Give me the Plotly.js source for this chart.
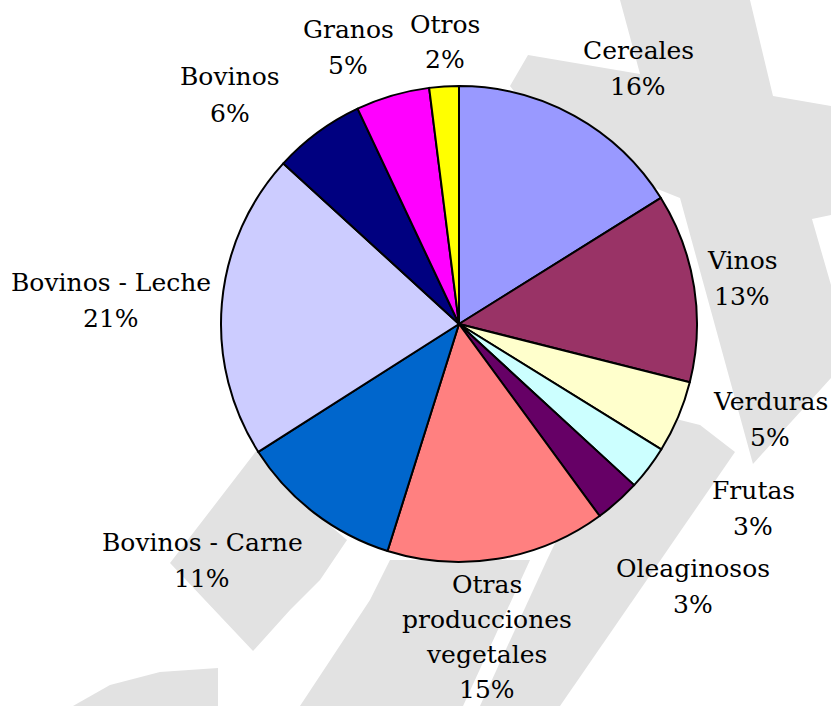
<!DOCTYPE html>
<html>
<head>
<meta charset="utf-8">
<script src="https://cdn.plot.ly/plotly-3.0.1.min.js"></script>
<style>html,body{margin:0;padding:0;background:#fff;}#chart{width:831px;height:706px;}</style>
</head>
<body>
<div id="chart"></div>
<script>
// ---- data ----
var categories = ["Cereales", "Vinos", "Verduras", "Frutas", "Oleaginosos",
  "Otras producciones vegetales", "Bovinos - Carne", "Bovinos - Leche",
  "Bovinos", "Granos", "Otros"];
var labelLines = ["Cereales", "Vinos", "Verduras", "Frutas", "Oleaginosos",
  "Otras<br>producciones<br>vegetales", "Bovinos - Carne", "Bovinos - Leche",
  "Bovinos", "Granos", "Otros"];
var shares = [16.1, 12.8, 4.9, 3.0, 3.1, 14.9, 11.1, 20.8, 6.2, 5.0, 2.0];
var sliceColors = ["#9999FF", "#993366", "#FFFFCC", "#CCFFFF", "#660066",
  "#FF8080", "#0066CC", "#CCCCFF", "#000080", "#FF00FF", "#FFFF00"];

// ---- layout helpers (pixel positions of label blocks) ----
var W = 831, H = 706;
var labelPos = [[638, 68], [742, 279], [770, 419], [753, 508], [693, 586],
  [487, 637], [202, 560], [111, 300], [230, 95], [348, 48], [445, 42]];
var lineGap = 36;
var cx = 459, cy = 324, R = 238;

function px(x) { return x / W; }
function py(y) { return 1 - y / H; }
function poly(pts) {
  return pts.map(function (p, i) { return (i ? 'L' : 'M') + px(p[0]).toFixed(4) + ',' + py(p[1]).toFixed(4); }).join(' ') + ' Z';
}

var total = shares.reduce(function (a, b) { return a + b; }, 0);
var annotations = [];
categories.forEach(function (c, i) {
  var lines = labelLines[i].split('<br>');
  lines.push(Math.round(shares[i] / total * 100) + '%');
  var n = lines.length;
  var gap = n > 2 ? 35 : lineGap;
  lines.forEach(function (t, k) {
    var y = labelPos[i][1] + (k - (n - 1) / 2) * gap;
    annotations.push({
      xref: 'paper', yref: 'paper', x: px(labelPos[i][0]), y: py(y),
      xanchor: 'center', yanchor: 'middle', showarrow: false, text: t,
      font: {family: 'DejaVu Serif, serif', size: 25, color: '#000'}
    });
  });
});

// ---- background watermark shapes ----
var wm = '#e2e2e2';
var shapes = [
  poly([[620,0],[750,0],[773,96],[831,106],[831,215],[812,219],[831,285],[831,378],[753,464],[680,198],[560,150],[510,86],[528,55],[640,74]]),
  poly([[672,418],[700,425],[735,452],[560,706],[480,706],[547,560],[590,470]]),
  poly([[530,560],[463,706],[300,706],[370,600],[390,560]]),
  poly([[257,450],[170,563],[253,651],[290,610],[320,580],[347,540],[300,500]]),
  poly([[73,706],[110,685],[160,672],[218,668],[218,706]])
].map(function (p) {
  return {type: 'path', xref: 'paper', yref: 'paper', path: p, fillcolor: wm, line: {width: 0}, layer: 'below'};
});

var trace = {
  type: 'pie',
  labels: categories,
  values: shares,
  sort: false,
  direction: 'clockwise',
  rotation: 0,
  textinfo: 'none',
  hoverinfo: 'label+percent',
  marker: {colors: sliceColors, line: {color: '#000', width: 2}},
  domain: {x: [px(cx - R), px(cx + R)], y: [py(cy + R), py(cy - R)]},
  showlegend: false
};

var layout = {
  width: W, height: H,
  margin: {l: 0, r: 0, t: 0, b: 0},
  paper_bgcolor: '#fff',
  showlegend: false,
  annotations: annotations,
  shapes: shapes
};

Plotly.newPlot('chart', [trace], layout, {displayModeBar: false, staticPlot: true});
</script>
</body>
</html>
